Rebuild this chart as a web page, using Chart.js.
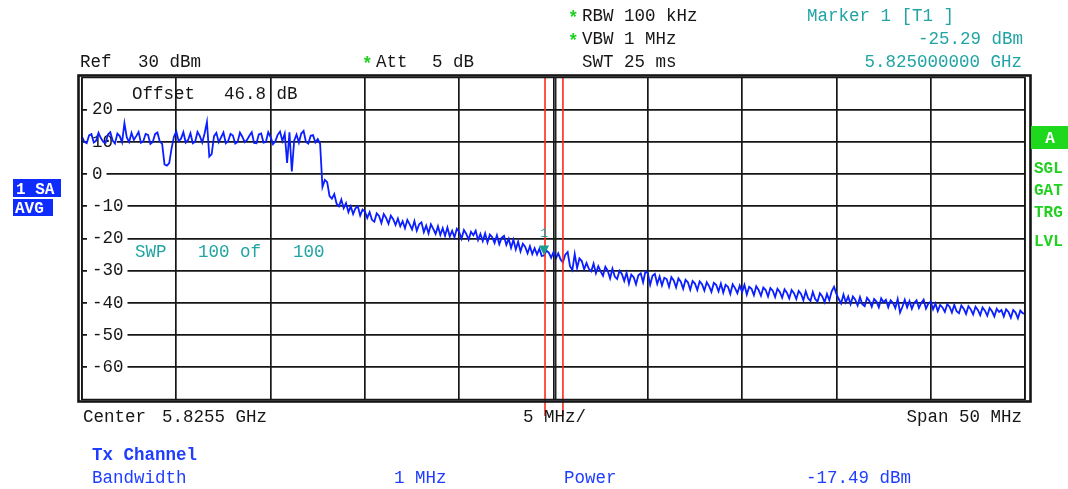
<!DOCTYPE html>
<html>
<head>
<meta charset="utf-8">
<title>Spectrum</title>
<script src="https://cdn.jsdelivr.net/npm/chart.js@4.4.1/dist/chart.umd.min.js"></script>
<style>
  html, body { margin: 0; padding: 0; background: #fff; }
  canvas { display: block; }
</style>
</head>
<body>
<canvas id="spectrumChart" width="1068" height="489"></canvas>
<script>
// sweep: offsets from center frequency, in MHz
const centerGHz = 5.8255;
const sweepStartMHz = -25;
const sweepStepMHz = 0.125;

const levelTicks = [20, 10, 0, -10, -20, -30, -40, -50, -60];

// trace 1, dBm
const traceDbm = [
  11.6, 10.0, 9.6, 12.0, 12.4, 9.8, 10.4, 12.8, 11.2, 10.0,
  9.7, 12.3, 13.0, 10.4, 9.5, 12.6, 11.8, 9.9, 15.8, 11.4,
  10.0, 12.8, 10.6, 11.8, 13.1, 9.7, 10.2, 12.5, 12.2, 9.4,
  10.0, 12.4, 12.9, 10.1, 9.4, 3.0, 2.6, 3.4, 8.0, 11.6,
  13.2, 10.2, 11.0, 13.0, 9.8, 10.6, 12.7, 9.6, 10.1, 13.1,
  11.8, 9.8, 12.6, 16.2, 5.4, 6.2, 11.8, 12.8, 9.9, 11.4,
  12.9, 9.6, 10.3, 12.5, 12.0, 9.5, 10.0, 12.9, 11.6, 9.9,
  10.6, 11.9, 13.0, 9.7, 9.6, 12.3, 12.6, 9.8, 10.0, 13.0,
  11.5, 9.3, 10.2, 12.2, 13.2, 10.3, 12.6, 3.5, 13.0, 0.8,
  10.4, 12.3, 9.8, 12.6, 13.4, 10.0, 9.5, 11.9, 12.1, 9.8,
  10.9, 9.4, -4.0, -1.8, -2.5, -6.8, -7.6, -6.2, -9.2, -10.0,
  -7.9, -10.6, -9.0, -11.8, -10.0, -12.4, -10.6, -10.0, -12.9, -11.0,
  -11.6, -13.6, -11.8, -14.2, -14.8, -12.2, -13.0, -15.2, -12.4, -13.6,
  -15.4, -12.9, -14.0, -15.8, -13.8, -16.2, -14.6, -16.8, -14.2, -15.6,
  -17.2, -14.6, -17.6, -15.6, -15.0, -18.0, -16.0, -18.4, -15.6, -17.0,
  -18.6, -16.2, -18.9, -16.8, -19.2, -16.6, -19.4, -17.6, -19.6, -17.0,
  -18.0, -20.1, -17.4, -18.6, -20.4, -17.9, -19.0, -17.6, -20.5, -18.6,
  -20.8, -18.4, -21.2, -18.8, -19.6, -21.4, -19.0, -21.8, -19.8, -19.2,
  -22.0, -20.1, -22.9, -20.4, -23.4, -21.0, -24.0, -21.6, -22.6, -24.6,
  -22.4, -24.8, -23.0, -25.0, -23.2, -25.4, -25.29, -23.8, -24.4, -26.0,
  -24.2, -26.2, -24.6, -26.5, -27.4, -25.0, -24.2, -28.6, -29.8, -24.8,
  -29.2, -26.2, -27.0, -29.6, -27.6, -29.4, -30.2, -27.8, -30.8, -28.6,
  -30.2, -31.6, -28.8, -30.0, -32.4, -29.4, -31.8, -32.6, -30.0, -31.0,
  -33.2, -30.6, -34.0, -31.2, -32.0, -34.2, -31.4, -30.8, -33.6, -30.2,
  -30.8, -34.4, -31.6, -31.0, -34.1, -31.8, -34.6, -32.2, -32.6, -35.0,
  -32.0, -33.0, -35.2, -32.4, -33.4, -35.6, -32.8, -33.6, -35.9, -33.2,
  -34.0, -36.0, -33.3, -34.2, -36.2, -33.6, -34.8, -36.6, -33.8, -34.4,
  -36.4, -34.0, -36.8, -34.4, -35.0, -37.2, -34.2, -35.4, -37.0, -34.6,
  -36.6, -34.4, -37.4, -35.0, -35.6, -37.6, -34.8, -36.0, -37.8, -35.2,
  -36.0, -38.0, -35.4, -36.2, -38.2, -35.6, -36.6, -38.4, -35.8, -36.8,
  -38.6, -36.0, -37.0, -38.8, -36.3, -37.2, -39.2, -36.4, -38.6, -39.4,
  -36.6, -38.8, -39.6, -37.0, -38.0, -39.8, -37.2, -39.2, -36.4, -35.0,
  -37.2, -38.8, -40.2, -37.4, -39.8, -38.0, -40.4, -38.0, -39.0, -40.8,
  -38.2, -40.4, -41.0, -38.4, -39.4, -41.2, -38.8, -39.6, -41.4, -38.6,
  -39.8, -39.0, -41.4, -39.2, -40.0, -41.6, -38.8, -43.0, -41.2, -39.0,
  -41.4, -39.4, -41.8, -40.0, -39.2, -41.6, -40.0, -39.0, -41.8, -40.2,
  -39.6, -42.0, -40.2, -42.6, -40.6, -41.4, -42.8, -40.4, -41.2, -43.0,
  -40.6, -42.6, -43.2, -40.8, -41.8, -43.4, -41.0, -42.0, -43.6, -41.2,
  -42.2, -43.8, -41.4, -42.4, -44.0, -41.6, -42.6, -44.2, -41.8, -42.8,
  -42.2, -44.2, -42.0, -42.8, -44.6, -42.2, -43.0, -44.8, -42.4, -43.2,
  -43.4
];

const markerOffsetMHz = [-0.5];
const markerDbm = [-25.29];
const markerNames = ['1'];

const channelEdgesMHz = [-0.45, 0.5];
const extraLinesMHz = [0.12];

const mono = "'Courier New', 'Liberation Mono', monospace";
const black = '#161616';
const teal = '#22a4a4';
const blue = '#1f3dff';
const green = '#22d022';

const tracePoints = traceDbm.map((v, i) => ({ x: sweepStartMHz + i * sweepStepMHz, y: v }));

const labels = [
  // header
  { t: '*', x: 568, y: 23, c: green, b: true },
  { t: 'RBW 100 kHz', x: 582, y: 21 },
  { t: '*', x: 568, y: 46, c: green, b: true },
  { t: 'VBW 1 MHz', x: 582, y: 44 },
  { t: 'SWT 25 ms', x: 582, y: 67 },
  { t: 'Marker ' + markerNames[0] + ' [T1 ]', x: 807, y: 21, c: teal },
  { t: markerDbm[0].toFixed(2) + ' dBm', x: 1023, y: 44, c: teal, a: 'right' },
  { t: (centerGHz + markerOffsetMHz[0] / 1000).toFixed(9) + ' GHz', x: 1022, y: 67, c: teal, a: 'right' },
  { t: 'Ref', x: 80, y: 67 },
  { t: '30 dBm', x: 138, y: 67 },
  { t: '*', x: 362, y: 69, c: green, b: true },
  { t: 'Att', x: 376, y: 67 },
  { t: '5 dB', x: 432, y: 67 },
  // inside the grid
  { t: 'Offset', x: 132, y: 99 },
  { t: '46.8 dB', x: 224, y: 99 },
  { t: 'SWP', x: 135, y: 257, c: teal },
  { t: '100 of', x: 198, y: 257, c: teal },
  { t: '100', x: 293, y: 257, c: teal },
  // below the grid
  { t: 'Center', x: 83, y: 422 },
  { t: centerGHz + ' GHz', x: 162, y: 422 },
  { t: '5', x: 523, y: 422 },
  { t: 'MHz/', x: 544, y: 422 },
  { t: 'Span 50 MHz', x: 1022, y: 422, a: 'right' },
  { t: 'Tx Channel', x: 92, y: 460, c: blue, b: true },
  { t: 'Bandwidth', x: 92, y: 483, c: blue },
  { t: '1 MHz', x: 394, y: 483, c: blue },
  { t: 'Power', x: 564, y: 483, c: blue },
  { t: '-17.49 dBm', x: 806, y: 483, c: blue },
  // side status
  { t: 'SGL', x: 1034, y: 173, c: green, b: true, s: 16 },
  { t: 'GAT', x: 1034, y: 195, c: green, b: true, s: 16 },
  { t: 'TRG', x: 1034, y: 217, c: green, b: true, s: 16 },
  { t: 'LVL', x: 1034, y: 246, c: green, b: true, s: 16 }
];

const analyzerDecor = {
  id: 'analyzerDecor',
  beforeDraw(chart) {
    const ctx = chart.ctx;
    ctx.save();
    ctx.fillStyle = '#fff';
    ctx.fillRect(0, 0, chart.width, chart.height);
    ctx.restore();
  },
  afterDatasetsDraw(chart) {
    const ctx = chart.ctx;
    const xs = chart.scales.x, ys = chart.scales.y;
    const area = chart.chartArea;
    ctx.save();
    // second center line
    ctx.strokeStyle = black;
    ctx.lineWidth = 1.4;
    extraLinesMHz.forEach(f => {
      const px = xs.getPixelForValue(f);
      ctx.beginPath(); ctx.moveTo(px, area.top); ctx.lineTo(px, area.bottom); ctx.stroke();
    });
    // channel limit lines
    ctx.strokeStyle = '#ff2a1a';
    ctx.lineWidth = 1.6;
    channelEdgesMHz.forEach(f => {
      const px = xs.getPixelForValue(f);
      ctx.beginPath(); ctx.moveTo(px, area.top); ctx.lineTo(px, 416); ctx.stroke();
    });
    // marker
    markerOffsetMHz.forEach((f, i) => {
      const px = xs.getPixelForValue(f);
      const py = ys.getPixelForValue(markerDbm[i]);
      ctx.fillStyle = '#179e8e';
      ctx.beginPath();
      ctx.moveTo(px, py);
      ctx.lineTo(px - 5, py - 10);
      ctx.lineTo(px + 5, py - 10);
      ctx.closePath();
      ctx.fill();
      ctx.fillStyle = teal;
      ctx.font = '13px ' + mono;
      ctx.textAlign = 'center';
      ctx.fillText(markerNames[i], px, py - 19);
    });
    ctx.restore();
  },
  afterDraw(chart) {
    const ctx = chart.ctx;
    const area = chart.chartArea;
    ctx.save();
    // frame
    ctx.strokeStyle = black;
    ctx.lineWidth = 1.5;
    ctx.strokeRect(area.left, area.top, area.right - area.left, area.bottom - area.top);
    ctx.lineWidth = 2.6;
    ctx.strokeRect(78.5, 75.5, 952, 326);

    // boxes
    ctx.fillStyle = '#0f2cff';
    ctx.fillRect(13, 179, 48, 18);
    ctx.fillRect(13, 199, 40, 17);
    ctx.fillStyle = '#1ed81e';
    ctx.fillRect(1031, 126, 37, 23);
    ctx.fillStyle = '#fff';
    ctx.font = 'bold 16px ' + mono;
    ctx.textAlign = 'left';
    ctx.fillText('1 SA', 16, 194);
    ctx.fillText('AVG', 15, 213);
    ctx.textAlign = 'center';
    ctx.fillText('A', 1050, 143);

    labels.forEach(l => {
      ctx.fillStyle = l.c || black;
      ctx.font = (l.b ? 'bold ' : '') + (l.s || 17.5) + 'px ' + mono;
      ctx.textAlign = l.a || 'left';
      ctx.textBaseline = 'alphabetic';
      ctx.fillText(l.t, l.x, l.y);
    });
    ctx.restore();
  }
};

new Chart(document.getElementById('spectrumChart').getContext('2d'), {
  type: 'line',
  data: {
    datasets: [{
      label: 'Trace 1',
      data: tracePoints,
      borderColor: '#0a1eff',
      borderWidth: 1.8,
      pointRadius: 0,
      tension: 0,
      fill: false
    }]
  },
  options: {
    responsive: false,
    animation: false,
    events: [],
    layout: { padding: { left: 82, right: 43, top: 77.5, bottom: 89.5 } },
    plugins: { legend: { display: false }, tooltip: { enabled: false } },
    scales: {
      x: {
        type: 'linear',
        min: -25,
        max: 25,
        ticks: { display: false, stepSize: 5 },
        grid: { color: black, lineWidth: 1.7, drawTicks: false },
        border: { display: false },
        afterFit: s => { s.height = 0; }
      },
      y: {
        min: -70,
        max: 30,
        afterFit: s => { s.width = 0; },
        ticks: {
          stepSize: 10,
          mirror: true,
          padding: 10,
          color: black,
          font: { family: mono, size: 17.5 },
          showLabelBackdrop: true,
          backdropColor: '#fff',
          backdropPadding: { left: 5, right: 4, top: 1, bottom: 1 },
          callback: v => levelTicks.includes(v) ? String(v) : null
        },
        grid: { color: black, lineWidth: 1.7, drawTicks: false },
        border: { display: false }
      }
    }
  },
  plugins: [analyzerDecor]
});
</script>
</body>
</html>
